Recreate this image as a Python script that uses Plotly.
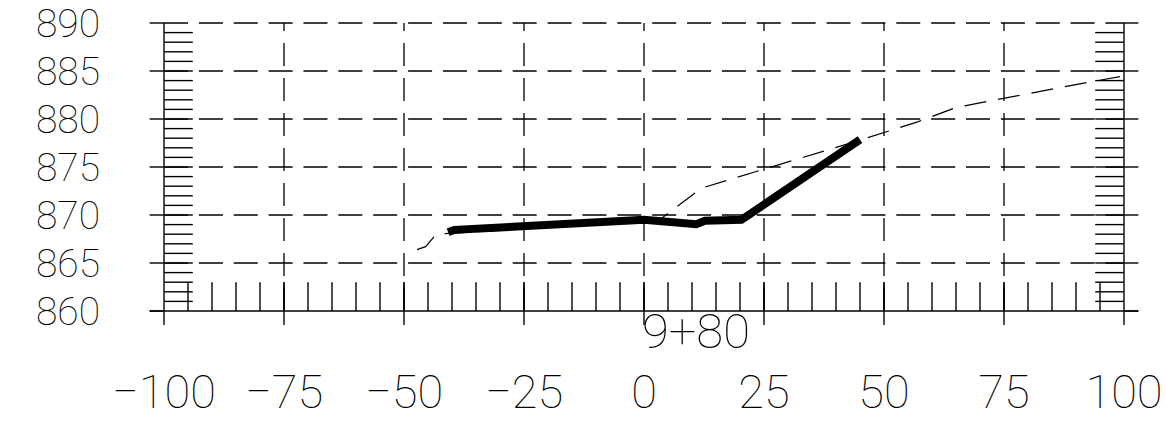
import plotly.graph_objects as go

# ---------------- data ----------------
x_tick_vals = [-100, -75, -50, -25, 0, 25, 50, 75, 100]
x_tick_text = ["\u2212100", "\u221275", "\u221250", "\u221225", "0", "25", "50", "75", "100"]
y_tick_vals = [860, 865, 870, 875, 880, 885, 890]
y_tick_text = ["860", "865", "870", "875", "880", "885", "890"]

# existing ground (dashed)
ground_x = [-47.3, -45.5, -43.3, 3.0, 12.0, 45.0, 57.0, 65.0, 88.0, 100.0]
ground_y = [866.4, 866.7, 868.0, 869.4, 872.8, 877.8, 879.7, 881.2, 883.4, 884.5]

# proposed section (thick)
design_x = [-40.8, -39.5, 0.0, 10.9, 12.7, 20.3, 45.0]
design_y = [868.2, 868.45, 869.5, 869.05, 869.4, 869.5, 877.85]

station_label = "9+80"

# ---------------- figure ----------------
X_MIN, X_MAX = -100, 100
Y_MIN, Y_MAX = 860, 890
EXT_X = 3.0      # extension of horizontal lines beyond frame (data units)
EXT_Y = 1.46     # extension of vertical lines below base (data units)
HATCH = 6        # hatch length (x units)
TICK_H = 3       # bottom tick height (y units)

FONT = "Roboto"
WEIGHT = 100
BLACK = "#000000"

fig = go.Figure()

def seg_trace(xs, ys, width=1.3, dash=None, color=BLACK):
    fig.add_trace(go.Scatter(x=xs, y=ys, mode="lines", hoverinfo="skip",
                             line=dict(color=color, width=width, dash=dash),
                             showlegend=False))

# horizontal dashed gridlines (each its own trace so dash starts at frame)
for yv in y_tick_vals[1:]:
    seg_trace([X_MIN, X_MAX], [yv, yv], width=1.3, dash="24px,10.87px")

# vertical dashed gridlines (drawn from base upward)
for xv in x_tick_vals[1:-1]:
    seg_trace([xv, xv], [Y_MIN, Y_MAX], width=1.3, dash="23px,12px")

# solid pieces: extensions, frame, hatch, ticks
sx, sy = [], []
for yv in y_tick_vals:
    sx += [X_MIN - EXT_X, X_MIN, None, X_MAX, X_MAX + EXT_X, None]
    sy += [yv, yv, None, yv, yv, None]
# base line
sx += [X_MIN - EXT_X, X_MAX + EXT_X, None]
sy += [Y_MIN, Y_MIN, None]
# frame verticals
for xv in [X_MIN, X_MAX]:
    sx += [xv, xv, None]
    sy += [Y_MIN - EXT_Y, Y_MAX, None]
# vertical extensions below base + solid part through tick band
for xv in x_tick_vals[1:-1]:
    sx += [xv, xv, None]
    sy += [Y_MIN - EXT_Y, Y_MIN + TICK_H, None]
# hatch on both sides, every unit
for yv in range(Y_MIN + 1, Y_MAX):
    sx += [X_MIN, X_MIN + HATCH, None, X_MAX - HATCH, X_MAX, None]
    sy += [yv, yv, None, yv, yv, None]
# bottom ticks every 5 units
for xv in range(X_MIN + 5, X_MAX, 5):
    sx += [xv, xv, None]
    sy += [Y_MIN, Y_MIN + TICK_H, None]
seg_trace(sx, sy, width=1.4)

# existing ground
fig.add_trace(go.Scatter(x=ground_x, y=ground_y, mode="lines", hoverinfo="skip",
                         line=dict(color=BLACK, width=1.2, dash="22px,12px"),
                         showlegend=False))
# design section
fig.add_trace(go.Scatter(x=design_x, y=design_y, mode="lines", hoverinfo="skip",
                         line=dict(color=BLACK, width=8), showlegend=False))

fig.add_annotation(x=0, y=Y_MIN, xref="x", yref="y", text=station_label,
                   showarrow=False, xanchor="left", yanchor="top",
                   xshift=-4, yshift=10,
                   font=dict(family=FONT, size=49, color=BLACK, weight=WEIGHT))

fig.update_layout(
    width=1166, height=424,
    margin=dict(l=140, r=16, t=15, b=89),
    paper_bgcolor="white", plot_bgcolor="white",
    showlegend=False,
    font=dict(family=FONT, color=BLACK, weight=WEIGHT),
    xaxis=dict(range=[-105, 105.4167], showgrid=False, zeroline=False,
               showline=False, ticks="", tickvals=x_tick_vals, ticktext=x_tick_text,
               automargin=False, ticklabeloverflow="allow",
               tickfont=dict(family=FONT, size=47, weight=WEIGHT), ticklabelstandoff=25),
    yaxis=dict(range=[857.5, 890.8333], showgrid=False, zeroline=False,
               showline=False, ticks="", tickvals=y_tick_vals, ticktext=y_tick_text,
               automargin=False, ticklabeloverflow="allow",
               tickfont=dict(family=FONT, size=39, weight=WEIGHT), ticklabelstandoff=39),
)

# remove the default 8px page margin so the figure fills the window exactly
fig.write_html("out.html",
               config={"displayModeBar": False},
               post_script="document.body.style.margin='0';document.body.style.overflow='hidden';")
